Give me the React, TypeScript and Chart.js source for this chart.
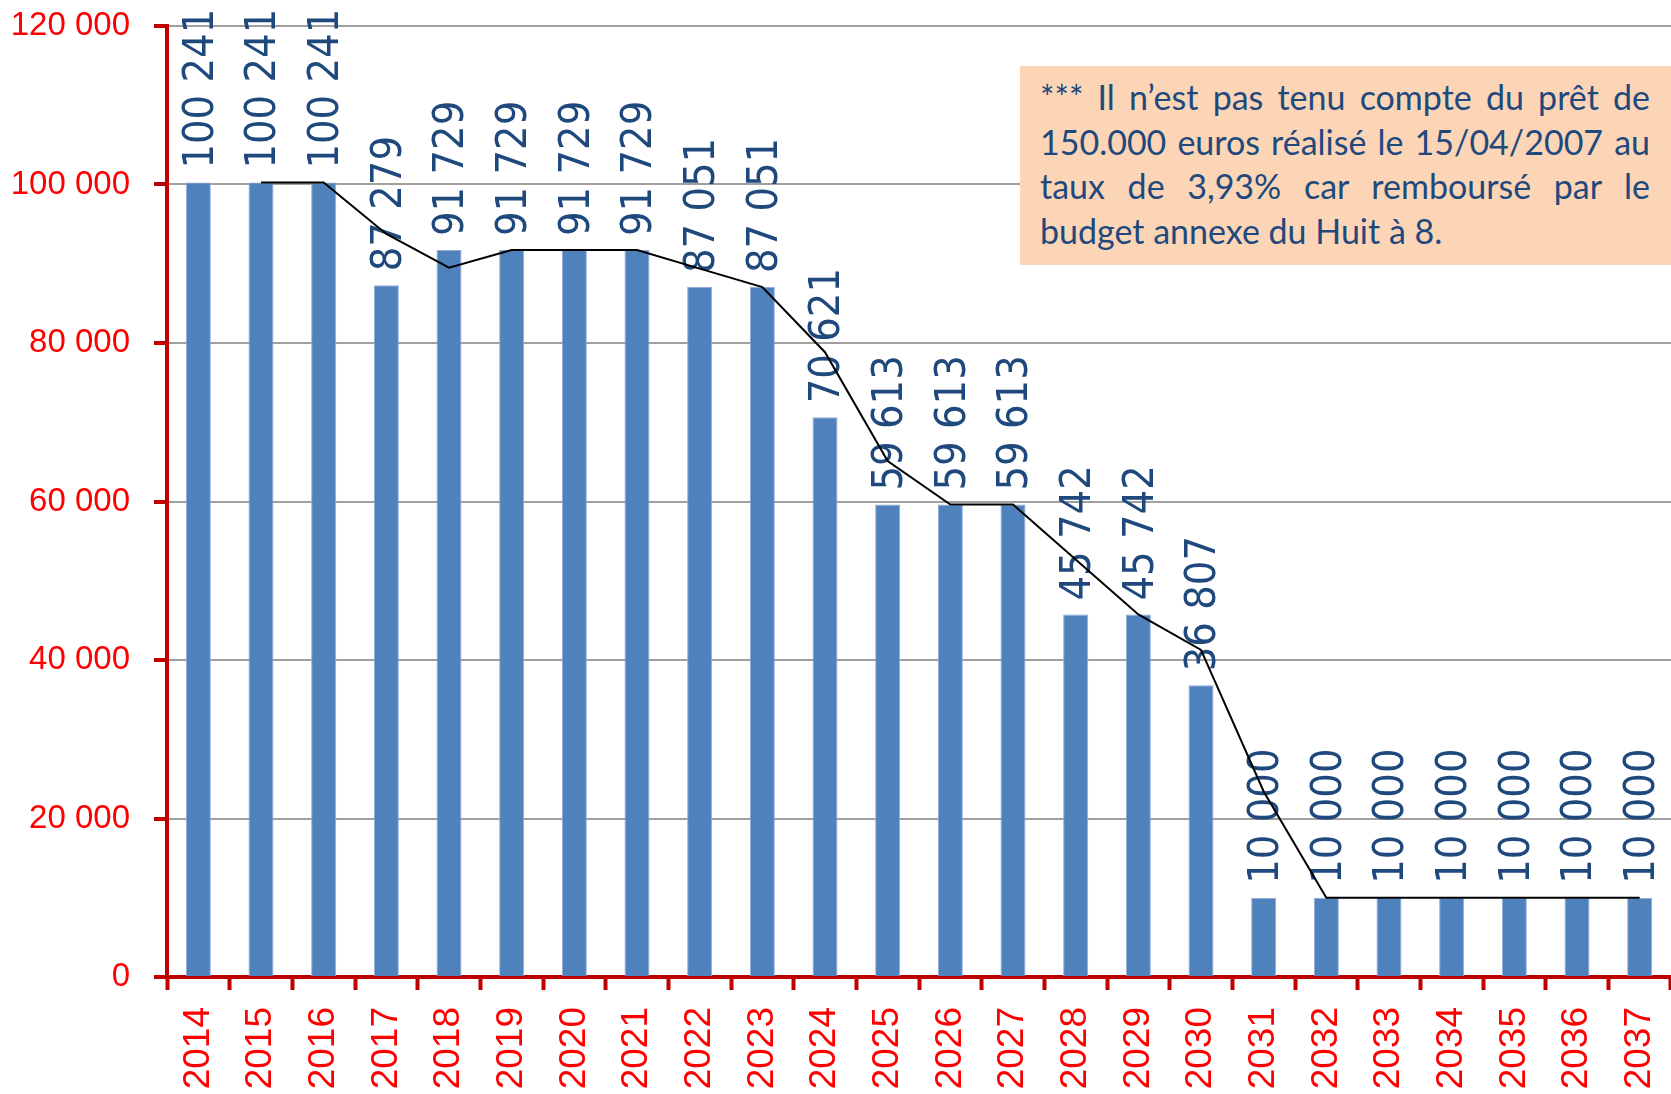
import React, { useEffect, useRef } from 'react';
import { Chart, registerables } from 'chart.js';

Chart.register(...registerables);

const years = ['2014', '2015', '2016', '2017', '2018', '2019', '2020', '2021', '2022', '2023', '2024', '2025', '2026', '2027', '2028', '2029', '2030', '2031', '2032', '2033', '2034', '2035', '2036', '2037'];
const annuities = [100241, 100241, 100241, 87279, 91729, 91729, 91729, 91729, 87051, 87051, 70621, 59613, 59613, 59613, 45742, 45742, 36807, 10000, 10000, 10000, 10000, 10000, 10000, 10000];
const trendLine = [null, 100241, 100241, 93760, 89504, 91729, 91729, 91729, 89390, 87051, 78836, 65117, 59613, 59613, 52678, 45742, 41275, 23404, 10000, 10000, 10000, 10000, 10000, 10000];
const yTickValues = [0, 20000, 40000, 60000, 80000, 100000, 120000];
const noteLines = [
  '*** Il n\u2019est pas tenu compte du prêt de',
  '150.000 euros réalisé le 15/04/2007 au',
  'taux de 3,93% car remboursé par le',
  'budget annexe du Huit à 8.',
];

const fmt = (v: number) => String(Math.round(v)).replace(/\B(?=(\d{3})+(?!\d))/g, ' ');

const barLabels = {
  id: 'barLabels',
  afterDatasetDraw(chart: any, args: any) {
    if (args.index !== 0) return;
    const ctx = chart.ctx;
    ctx.save();
    ctx.fillStyle = '#1F497D';
    ctx.font = '43px "DejaVu Sans Condensed", "DejaVu Sans", sans-serif';
    ctx.textAlign = 'left';
    ctx.textBaseline = 'middle';
    args.meta.data.forEach((el: any, i: number) => {
      ctx.save();
      ctx.translate(el.x + 3, el.y - 14);
      ctx.rotate(-Math.PI / 2);
      ctx.fillText(fmt(annuities[i]), 0, 0);
      ctx.restore();
    });
    ctx.restore();
  },
};

export default function App() {
  const canvasRef = useRef<HTMLCanvasElement | null>(null);

  useEffect(() => {
    if (!canvasRef.current) return;
    const chart = new Chart(canvasRef.current, {
      type: 'bar',
      data: {
        labels: years,
        datasets: [
          {
            type: 'bar',
            data: annuities,
            backgroundColor: '#4F81BD',
            borderColor: '#8FADD6',
            borderWidth: 1,
            categoryPercentage: 1,
            barPercentage: 0.4,
            order: 2,
          },
          {
            type: 'line',
            data: trendLine as any,
            borderColor: '#000000',
            borderWidth: 2,
            pointRadius: 0,
            tension: 0,
            fill: false,
            order: 1,
          } as any,
        ],
      },
      options: {
        animation: false,
        responsive: false,
        maintainAspectRatio: false,
        devicePixelRatio: 1,
        layout: { padding: { top: 26, left: 0, right: 0, bottom: 0 } },
        plugins: { legend: { display: false }, tooltip: { enabled: false } },
        scales: {
          x: {
            grid: {
              drawOnChartArea: false,
              drawTicks: true,
              tickLength: 13,
              tickWidth: 4,
              tickColor: '#C00000',
              offset: true,
            },
            border: { color: '#C00000', width: 4 },
            ticks: {
              color: '#FF0000',
              font: { family: '"Liberation Sans", Arial, sans-serif', size: 37 },
              maxRotation: 90,
              minRotation: 90,
              padding: 17,
              autoSkip: false,
            },
            afterFit: (s: any) => {
              s.height = 117;
              s.paddingLeft = 0;
              s.paddingRight = 0;
            },
          },
          y: {
            min: 0,
            max: 120000,
            afterBuildTicks: (s: any) => {
              s.ticks = yTickValues.map((v) => ({ value: v }));
            },
            grid: {
              color: '#A0A0A0',
              lineWidth: 2,
              tickLength: 13,
              tickWidth: 4,
              tickColor: '#C00000',
            },
            border: { color: '#C00000', width: 4 },
            ticks: {
              color: '#FF0000',
              font: { family: '"Liberation Sans", Arial, sans-serif', size: 33 },
              padding: 24,
              callback: (v: any) => fmt(Number(v)),
            },
            afterFit: (s: any) => {
              s.width = 167;
              s.paddingTop = 0;
              s.paddingBottom = 0;
            },
          },
        },
      },
      plugins: [barLabels],
    });
    return () => chart.destroy();
  }, []);

  return (
    <div style={{ position: 'fixed', left: 0, top: 0, width: 1671, height: 1094, background: '#ffffff', overflow: 'hidden' }}>
      <canvas ref={canvasRef} width={1671} height={1094} style={{ position: 'absolute', left: 0, top: 0, width: 1671, height: 1094 }} />
      <div
        style={{
          position: 'absolute',
          left: 1020,
          top: 66,
          width: 651,
          height: 199,
          background: '#FBD5B5',
          boxSizing: 'border-box',
          padding: '9px 21px 0 20px',
          color: '#1F497D',
          fontFamily: 'Lato, "Open Sans", sans-serif',
          fontSize: 34,
          lineHeight: '44.5px',
        }}
      >
        {noteLines.map((line, i) => (
          <div
            key={i}
            style={{
              textAlign: i < noteLines.length - 1 ? 'justify' : 'left',
              textAlignLast: i < noteLines.length - 1 ? 'justify' : 'left',
              whiteSpace: 'normal',
            } as any}
          >
            {line}
          </div>
        ))}
      </div>
    </div>
  );
}
